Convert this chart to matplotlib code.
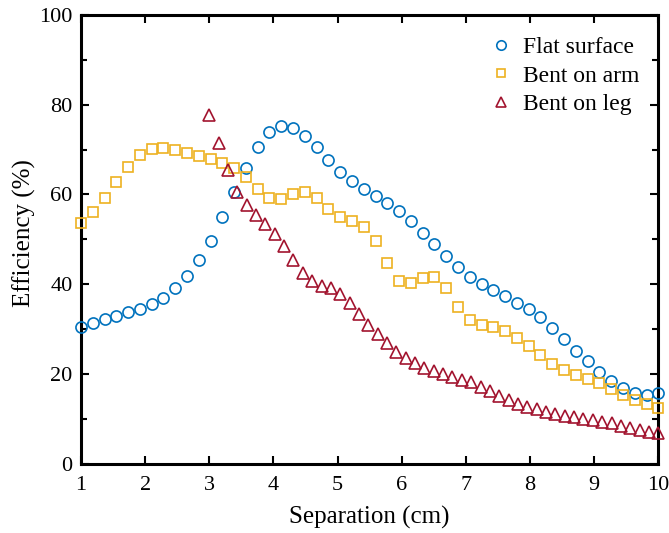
import numpy as np
import matplotlib
matplotlib.use("Agg")
import matplotlib.pyplot as plt
from matplotlib.ticker import MultipleLocator

plt.rcParams["font.family"] = ["Liberation Serif", "DejaVu Serif"]
plt.rcParams["mathtext.fontset"] = "stix"

# separation grids (cm)
sep_main = np.linspace(1, 10, 50)
sep_leg = np.linspace(3, 10, 49)

flat_surface = [
    30.4, 31.4, 32.2, 32.9, 33.7, 34.4, 35.6, 37.0, 39.1, 41.8,
    45.3, 49.7, 55.0, 60.6, 66.0, 70.6, 74.0, 75.3, 74.8, 73.1,
    70.5, 67.6, 65.0, 62.9, 61.2, 59.6, 58.0, 56.2, 54.1, 51.5,
    48.9, 46.3, 43.8, 41.7, 40.0, 38.8, 37.3, 35.9, 34.5, 32.6,
    30.3, 27.7, 25.2, 22.8, 20.4, 18.5, 16.9, 15.8, 15.3, 15.7,
]
bent_arm = [
    53.7, 56.0, 59.2, 62.8, 66.1, 68.8, 70.2, 70.3, 69.8, 69.2,
    68.5, 67.9, 67.1, 65.9, 63.8, 61.2, 59.2, 59.0, 60.0, 60.5,
    59.1, 56.8, 55.0, 54.0, 52.8, 49.6, 44.7, 40.8, 40.2, 41.4,
    41.7, 39.1, 35.0, 32.0, 30.8, 30.4, 29.6, 28.1, 26.2, 24.2,
    22.3, 20.8, 19.8, 18.9, 18.0, 16.7, 15.4, 14.2, 13.2, 12.4,
]
bent_leg = [
    77.7, 71.4, 65.4, 60.6, 57.6, 55.4, 53.5, 51.2, 48.4, 45.3,
    42.6, 40.7, 39.7, 39.1, 37.8, 35.8, 33.4, 31.0, 29.0, 26.9,
    25.0, 23.5, 22.4, 21.4, 20.7, 20.0, 19.4, 18.7, 18.1, 17.1,
    16.1, 15.0, 14.1, 13.3, 12.6, 12.1, 11.6, 11.1, 10.7, 10.3,
    10.0, 9.8, 9.4, 9.0, 8.4, 7.9, 7.4, 7.1, 6.9,
]

fig = plt.figure(figsize=(6.69, 5.33), dpi=100)
ax = fig.add_axes([0.121, 0.130, 0.863, 0.842])

ax.plot(sep_main, flat_surface, "o", ls="none", ms=8, mfc="none", mec="#0072BD",
        mew=1.2, label="Flat surface", clip_on=False, zorder=3)
ax.plot(sep_main, bent_arm, "s", ls="none", ms=6.8, mfc="none", mec="#EDB120",
        mew=1.2, label="Bent on arm", clip_on=False, zorder=3)
ax.plot(sep_leg, bent_leg, "^", ls="none", ms=8.5, mfc="none", mec="#A2142F",
        mew=1.2, label="Bent on leg", clip_on=False, zorder=3)

ax.set_xlim(1, 10)
ax.set_ylim(0, 100)
ax.xaxis.set_major_locator(MultipleLocator(1))
ax.yaxis.set_major_locator(MultipleLocator(20))
ax.yaxis.set_minor_locator(MultipleLocator(10))

for spine in ax.spines.values():
    spine.set_linewidth(2.2)
ax.tick_params(which="both", direction="in", top=True, right=True,
               labelsize=16, width=1.5)
ax.tick_params(axis="x", pad=9)
ax.tick_params(axis="y", pad=6)
ax.tick_params(which="major", length=6)
ax.tick_params(which="minor", length=4)

ax.set_xlabel("Separation (cm)", fontsize=18, labelpad=8)
ax.set_ylabel("Efficiency (%)", fontsize=18)
ax.yaxis.set_label_coords(-0.077, 0.515)

ax.legend(loc="upper right", bbox_to_anchor=(0.984, 0.973), borderaxespad=0,
          frameon=False, fontsize=17, handletextpad=0.25, labelspacing=0.3,
          handlelength=1.4, markerscale=0.85)

fig.savefig("out.png", dpi=100)
